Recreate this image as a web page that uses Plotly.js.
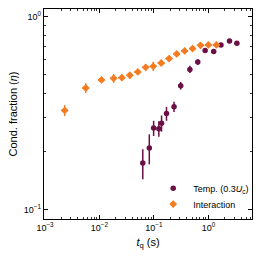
<!DOCTYPE html>
<html><head><meta charset="utf-8">
<script src="https://cdn.plot.ly/plotly-3.0.1.min.js"></script>
<style>html,body{margin:0;padding:0;background:#fff}#c{width:260px;height:260px}</style>
</head><body><div id="c"></div>
<script>
const interX = [0.0023, 0.0056, 0.0109, 0.0182, 0.0258, 0.0361, 0.0506, 0.0706, 0.0973, 0.136, 0.190, 0.262, 0.366, 0.512, 0.716, 1.00, 1.40];
const interY = [0.327, 0.427, 0.470, 0.479, 0.483, 0.497, 0.517, 0.546, 0.553, 0.575, 0.606, 0.641, 0.664, 0.683, 0.710, 0.713, 0.713];
const interErr = [0.021, 0.025, 0.013, 0.025, 0.015, 0.02, 0.018, 0.02, 0.03, 0.018, 0.015, 0.015, 0.015, 0.015, 0.015, 0.015, 0.015];

const tempX = [0.0624, 0.0822, 0.0987, 0.123, 0.138, 0.170, 0.234, 0.310, 0.457, 0.638, 0.871, 1.25, 1.70, 2.44, 3.33];
const tempY = [0.175, 0.209, 0.265, 0.263, 0.281, 0.315, 0.342, 0.439, 0.533, 0.582, 0.667, 0.659, 0.713, 0.748, 0.727];
const tempErr = [0.031, 0.037, 0.024, 0.024, 0.027, 0.026, 0.021, 0.02, 0.023, 0.02, 0.015, 0.015, 0.012, 0.012, 0.012];

const seriesNames = ['Temp. (0.3<i>U</i><sub>c</sub>)', 'Interaction'];
const xTickVals = [0.001, 0.01, 0.1, 1];
const xTickText = ['10<sup>−3</sup>', '10<sup>−2</sup>', '10<sup>−1</sup>', '10<sup>0</sup>'];
const yTickVals = [0.1, 1];
const yTickText = ['10<sup>−1</sup>', '10<sup>0</sup>'];

const cTemp = '#6b0f46';
const cInter = '#f47b20';

// minor tick positions (2..9 per decade)
function minors(lo, hi) {
  const out = [];
  for (let d = lo; d <= hi; d++) for (let m = 2; m <= 9; m++) out.push(m * Math.pow(10, d));
  return out;
}
const xMinor = minors(-4, 1);
const yMinor = minors(-2, 0);

const xr = [-3.018, 0.8];
const yr = [-1.047, 0.039];

const traces = [
  {x: tempX, y: tempY, name: seriesNames[0], type: 'scatter', mode: 'markers', legend: 'legend',
   marker: {symbol: 'circle', size: 5.5, color: cTemp},
   error_y: {type: 'data', array: tempErr, visible: true, color: cTemp, thickness: 1.5, width: 0}},
  {x: interX, y: interY, name: seriesNames[1], type: 'scatter', mode: 'markers', legend: 'legend2',
   marker: {symbol: 'diamond', size: 6, color: cInter},
   error_y: {type: 'data', array: interErr, visible: true, color: cInter, thickness: 1.5, width: 0},
   error_x: {type: 'percent', value: 14, visible: true, color: cInter, thickness: 1.5, width: 0}},
  {x: tempX, y: tempY, xaxis: 'x2', yaxis: 'y2', type: 'scatter', mode: 'markers',
   marker: {opacity: 0}, showlegend: false, hoverinfo: 'skip'}
];

const font = {family: 'Liberation Sans, Arial, sans-serif', color: '#000'};
const axBase = {type: 'log', ticks: 'inside', ticklen: 4, tickwidth: 1, tickcolor: '#000',
  showline: true, linecolor: '#000', linewidth: 1.2, mirror: 'ticks',
  showgrid: false, zeroline: false, tickfont: {size: 9}, tickmode: 'array'};
const minBase = {type: 'log', ticks: 'inside', ticklen: 2, tickwidth: 0.8, tickcolor: '#000',
  showline: false, mirror: 'ticks', showgrid: false, zeroline: false,
  showticklabels: false, tickmode: 'array'};

const layout = {
  width: 260, height: 260,
  margin: {l: 44, r: 6, t: 9, b: 41},
  paper_bgcolor: '#fff', plot_bgcolor: '#fff',
  font: Object.assign({size: 9}, font),
  showlegend: true,
  legend: {x: 0.525, y: 0.215, xanchor: 'left', yanchor: 'top', bgcolor: 'rgba(0,0,0,0)', font: {size: 9}},
  legend2: {x: 0.525, y: 0.14, xanchor: 'left', yanchor: 'top', bgcolor: 'rgba(0,0,0,0)', font: {size: 9}},
  xaxis: Object.assign({}, axBase, {range: xr, tickvals: xTickVals, ticktext: xTickText,
          title: {text: '<i>t</i><sub>q</sub> (s)', font: {size: 11}, standoff: 6}}),
  yaxis: Object.assign({}, axBase, {range: yr, tickvals: yTickVals, ticktext: yTickText,
          title: {text: 'Cond. fraction (<i>η</i>)', font: {size: 11}, standoff: 4}}),
  xaxis2: Object.assign({}, minBase, {range: xr, tickvals: xMinor, overlaying: 'x', anchor: 'y2', side: 'bottom'}),
  yaxis2: Object.assign({}, minBase, {range: yr, tickvals: yMinor, overlaying: 'y', anchor: 'x2', side: 'left'})
};
Plotly.newPlot('c', traces, layout, {displayModeBar: false, staticPlot: true});
</script></body></html>
